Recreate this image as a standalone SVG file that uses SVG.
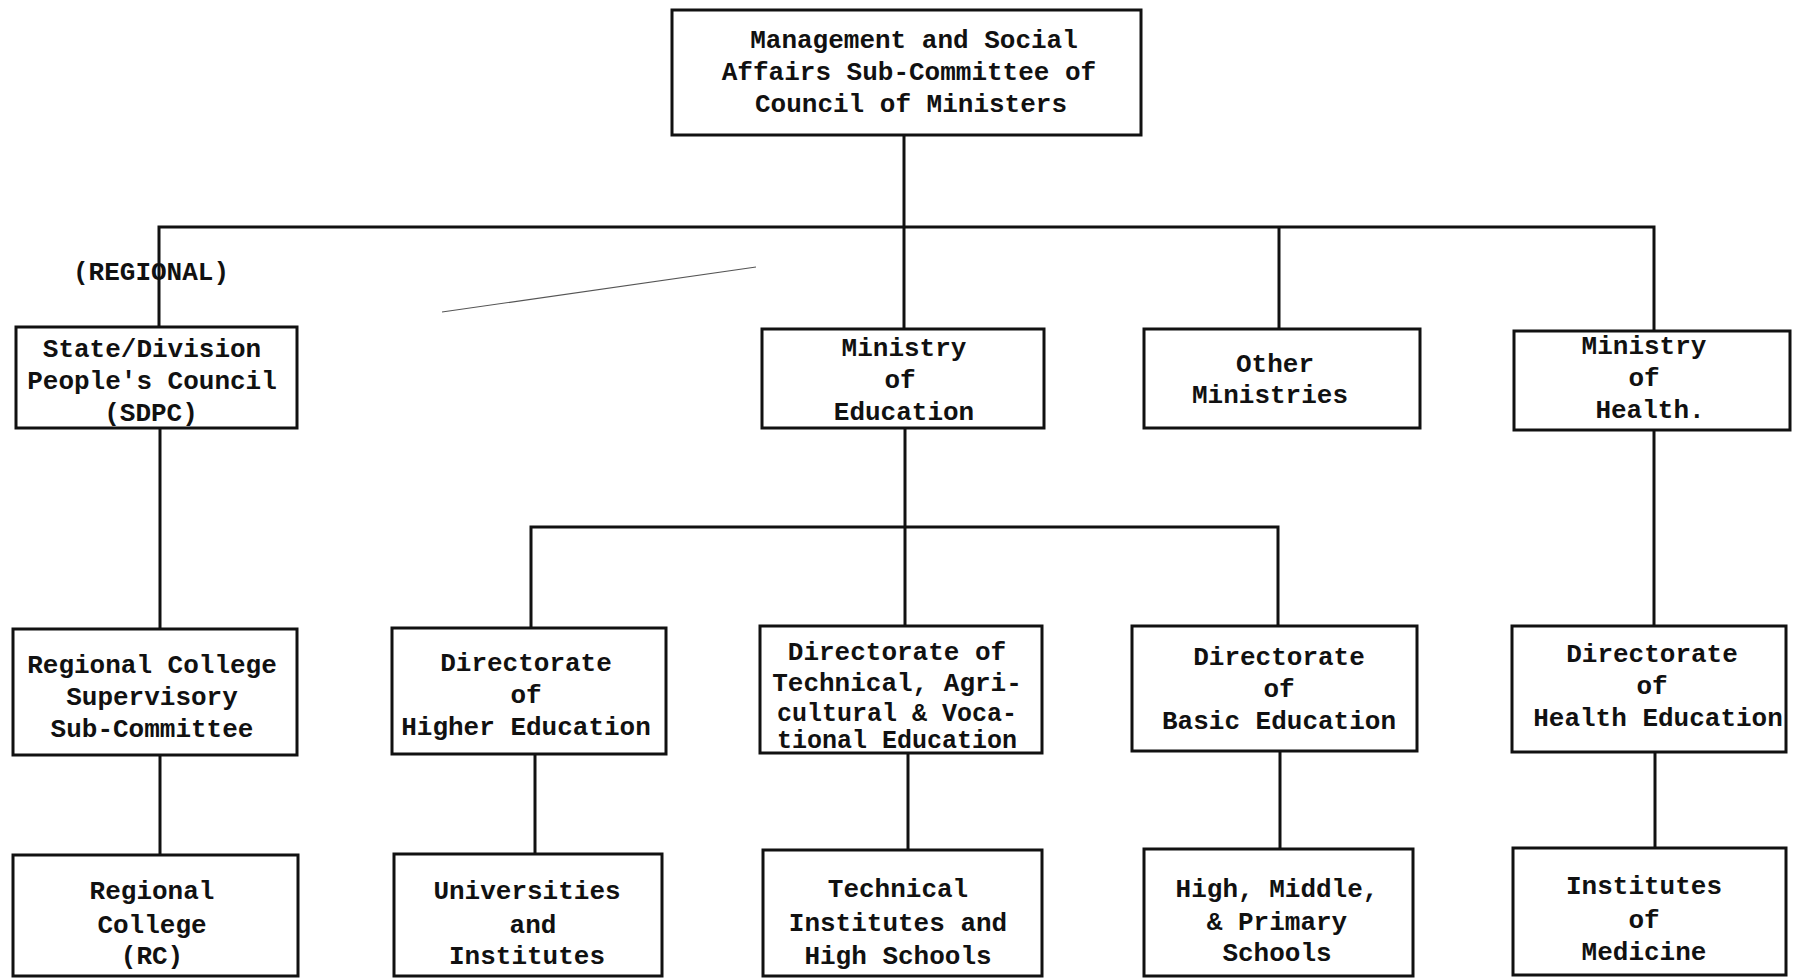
<svg xmlns="http://www.w3.org/2000/svg" width="1797" height="979" viewBox="0 0 1797 979">
  <style>
    .box { fill: #ffffff; stroke: #111111; stroke-width: 3; }
    .wire { fill: none; stroke: #111111; stroke-width: 3; }
    .lbl { font-family: "Liberation Mono", "DejaVu Sans Mono", monospace; font-size: 26px; font-weight: bold; fill: #111111; text-anchor: middle; }
    .tight { font-size: 25px; }
  </style>
  <rect width="1797" height="979" fill="#ffffff"/>

  <!-- connectors -->
  <g id="connectors">
    <polyline class="wire" points="904,135 904,227"/>
    <polyline class="wire" points="159,327 159,227 1654,227 1654,331"/>
    <polyline class="wire" points="904,227 904,329"/>
    <polyline class="wire" points="1279,227 1279,329"/>
    <polyline class="wire" points="160,428 160,629"/>
    <polyline class="wire" points="905,428 905,527"/>
    <polyline class="wire" points="531,628 531,527 1278,527 1278,626"/>
    <polyline class="wire" points="905,527 905,626"/>
    <polyline class="wire" points="1654,430 1654,626"/>
    <polyline class="wire" points="160,755 160,855"/>
    <polyline class="wire" points="535,754 535,854"/>
    <polyline class="wire" points="908,753 908,850"/>
    <polyline class="wire" points="1280,751 1280,849"/>
    <polyline class="wire" points="1655,752 1655,848"/>
    <!-- faint stray stroke -->
    <line x1="442" y1="312" x2="756" y2="267" stroke="#555555" stroke-width="1.2"/>
  </g>

  <text class="lbl" x="151" y="280">(REGIONAL)</text>

  <g id="council">
    <rect class="box" x="672" y="10" width="469" height="125"/>
    <text class="lbl" x="914" y="48">Management and Social</text>
    <text class="lbl" x="909" y="80">Affairs Sub-Committee of</text>
    <text class="lbl" x="911" y="112">Council of Ministers</text>
  </g>

  <g id="sdpc">
    <rect class="box" x="16" y="327" width="281" height="101"/>
    <text class="lbl" x="152" y="357">State/Division</text>
    <text class="lbl" x="152" y="389">People's Council</text>
    <text class="lbl" x="151" y="421">(SDPC)</text>
  </g>

  <g id="min-education">
    <rect class="box" x="762" y="329" width="282" height="99"/>
    <text class="lbl" x="904" y="356">Ministry</text>
    <text class="lbl" x="900" y="388">of</text>
    <text class="lbl" x="904" y="420">Education</text>
  </g>

  <g id="other-ministries">
    <rect class="box" x="1144" y="329" width="276" height="99"/>
    <text class="lbl" x="1275" y="372">Other</text>
    <text class="lbl" x="1270" y="403">Ministries</text>
  </g>

  <g id="min-health">
    <rect class="box" x="1514" y="331" width="276" height="99"/>
    <text class="lbl" x="1644" y="354">Ministry</text>
    <text class="lbl" x="1644" y="386">of</text>
    <text class="lbl" x="1650" y="418">Health.</text>
  </g>

  <g id="rcssc">
    <rect class="box" x="13" y="629" width="284" height="126"/>
    <text class="lbl" x="152" y="673">Regional College</text>
    <text class="lbl" x="152" y="705">Supervisory</text>
    <text class="lbl" x="152" y="737">Sub-Committee</text>
  </g>

  <g id="dir-higher">
    <rect class="box" x="392" y="628" width="274" height="126"/>
    <text class="lbl" x="526" y="671">Directorate</text>
    <text class="lbl" x="526" y="703">of</text>
    <text class="lbl" x="526" y="735">Higher Education</text>
  </g>

  <g id="dir-technical">
    <rect class="box" x="760" y="626" width="282" height="127"/>
    <text class="lbl" x="897" y="660">Directorate of</text>
    <text class="lbl" x="897" y="691">Technical, Agri-</text>
    <text class="lbl tight" x="897" y="721">cultural &amp; Voca-</text>
    <text class="lbl tight" x="897" y="748">tional Education</text>
  </g>

  <g id="dir-basic">
    <rect class="box" x="1132" y="626" width="285" height="125"/>
    <text class="lbl" x="1279" y="665">Directorate</text>
    <text class="lbl" x="1279" y="697">of</text>
    <text class="lbl" x="1279" y="729">Basic Education</text>
  </g>

  <g id="dir-health">
    <rect class="box" x="1512" y="626" width="274" height="126"/>
    <text class="lbl" x="1652" y="662">Directorate</text>
    <text class="lbl" x="1652" y="694">of</text>
    <text class="lbl" x="1658" y="726">Health Education</text>
  </g>

  <g id="regional-college">
    <rect class="box" x="13" y="855" width="285" height="121"/>
    <text class="lbl" x="152" y="899">Regional</text>
    <text class="lbl" x="152" y="933">College</text>
    <text class="lbl" x="152" y="964">(RC)</text>
  </g>

  <g id="universities">
    <rect class="box" x="394" y="854" width="268" height="122"/>
    <text class="lbl" x="527" y="899">Universities</text>
    <text class="lbl" x="533" y="933">and</text>
    <text class="lbl" x="527" y="964">Institutes</text>
  </g>

  <g id="technical-institutes">
    <rect class="box" x="763" y="850" width="279" height="126"/>
    <text class="lbl" x="898" y="897">Technical</text>
    <text class="lbl" x="898" y="931">Institutes and</text>
    <text class="lbl" x="898" y="964">High Schools</text>
  </g>

  <g id="schools">
    <rect class="box" x="1144" y="849" width="269" height="127"/>
    <text class="lbl" x="1277" y="897">High, Middle,</text>
    <text class="lbl" x="1277" y="930">&amp; Primary</text>
    <text class="lbl" x="1277" y="961">Schools</text>
  </g>

  <g id="medicine">
    <rect class="box" x="1513" y="848" width="273" height="127"/>
    <text class="lbl" x="1644" y="894">Institutes</text>
    <text class="lbl" x="1644" y="928">of</text>
    <text class="lbl" x="1644" y="960">Medicine</text>
  </g>
</svg>
